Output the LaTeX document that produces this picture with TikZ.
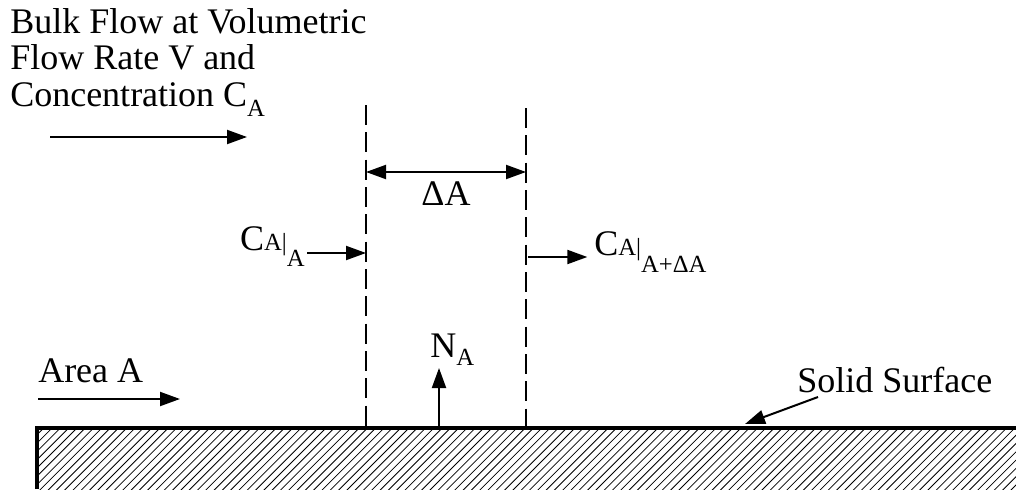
\documentclass[tikz,border=0pt]{standalone}
\usepackage{fontspec}
\setmainfont{Liberation Serif}
\usetikzlibrary{arrows.meta}
\newcommand\mysub[2]{\raisebox{-#1}{\fontsize{18.5}{18.5}\selectfont #2}}
\newcommand\mysmall[1]{{\fontsize{18.5}{18.5}\selectfont #1}}
\begin{document}
\begin{tikzpicture}[x=0.75pt,y=-0.75pt,
  lbl/.style={inner sep=0pt, font=\fontsize{27}{30}\selectfont},
  arr/.style={line width=1.5pt, -{Triangle[length=15pt,width=10.5pt]}},
  dblarr/.style={line width=1.5pt, {Triangle[length=15pt,width=10.5pt]}-{Triangle[length=15pt,width=10.5pt]}},
  bound/.style={line width=1.5pt, dash pattern=on 15pt off 5.5pt},
  surface/.style={line width=3.3pt},
  hatch/.style={line width=0.6pt}
]
\useasboundingbox (0,0) rectangle (1016,489);

% top text
\node[lbl, anchor=base west] (b1) at (10,33) {Bulk Flow at Volumetric};
\node[lbl, anchor=base west] (b2) at (10,69) {Flow Rate V and};
\node[lbl, anchor=base west] (b3) at (10,106) {Concentration C\mysub{7.5pt}{A}};
\coordinate (fs) at (50,137);
\coordinate (fe) at (247,137);
\draw[arr] (fs) -- (fe);

% hatched solid
\begin{scope}
  \clip (37,428) rectangle (1016,489);
  \foreach \i in {-70,-61.7,...,1030}{
    \draw[hatch] (\i,492) -- (\i+66,426);
  }
\end{scope}
\coordinate (s0) at (37,489);
\coordinate (s1) at (37,428);
\coordinate (s2) at (1016,428);
\draw[surface, line join=miter] (s0) -- (s1) -- (s2);

% control boundaries
\coordinate (l1) at (366,105);
\coordinate (l2) at (366,428);
\coordinate (r1) at (526,108);
\coordinate (r2) at (526,428);
\draw[bound] (l1) -- (l2);
\draw[bound] (r1) -- (r2);

% delta A
\coordinate (dl) at (366,172);
\coordinate (dr) at (526,172);
\draw[dblarr] (dl) -- (dr);
\node[lbl, anchor=base] (da) at (446,205) {ΔA};

% in-flow
\node[lbl, anchor=base east] (cl) at (305,250) {C\mysmall{A|}\mysub{12.5pt}{A}};
\coordinate (la) at (366,253);
\draw[arr] (la -| cl.east) ++(2,0) -- (la);

% out-flow
\coordinate (ra) at (528,257);
\node[lbl, anchor=base west] (cr) at (594,255) {C\mysmall{A|}\mysub{13pt}{A+ΔA}};
\draw[arr, shorten >=5pt] (ra) -- (ra -| cr.west);

% flux
\node[lbl, anchor=base west] (na) at (430,357) {N\mysub{6pt}{A}};
\coordinate (nb) at (439,428);
\coordinate (nt) at (439,368);
\draw[arr] (nb) -- (nt);

% Area A
\node[lbl, anchor=base west] (aa) at (38,382) {Area A};
\coordinate (as) at (38,399);
\coordinate (ae) at (180,399);
\draw[arr] (as) -- (ae);

% Solid surface
\node[lbl, anchor=base west] (ss) at (797,392) {Solid Surface};
\coordinate (sa) at (818,397);
\coordinate (sb) at (745,424);
\draw[arr] (sa) -- (sb);
\end{tikzpicture}
\end{document}
